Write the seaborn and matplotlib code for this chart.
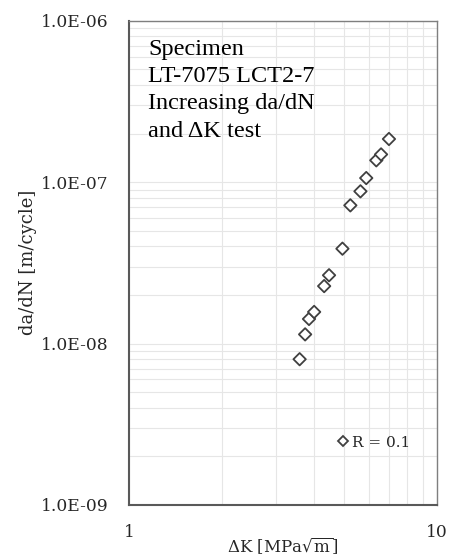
import numpy as np
import pandas as pd
import matplotlib
matplotlib.use("Agg")
import matplotlib.pyplot as plt
from matplotlib.ticker import LogLocator, FuncFormatter, NullFormatter
import seaborn as sns

# da/dN vs delta K
delta_k = [3.58, 3.73, 3.84, 3.99, 4.30, 4.46, 4.93, 5.23, 5.64, 5.89, 6.35, 6.58, 6.98]
dadn = [8.0e-9, 1.14e-8, 1.42e-8, 1.57e-8, 2.27e-8, 2.65e-8, 3.87e-8,
        7.18e-8, 8.77e-8, 1.06e-7, 1.365e-7, 1.485e-7, 1.85e-7]
series_label = "R = 0.1"
note_lines = ["Specimen", "LT-7075 LCT2-7", "Increasing da/dN", "and \u0394K test"]

df = pd.DataFrame({"dK": delta_k, "dadn": dadn, "series": series_label})

sns.set_style("white")
plt.rcParams["font.family"] = ["DejaVu Serif"]
plt.rcParams["mathtext.fontset"] = "dejavuserif"

fig = plt.figure(figsize=(4.53, 5.55), dpi=100)
ax = fig.add_axes([0.2848, 0.0901, 0.68, 0.8726])

sns.scatterplot(data=df, x="dK", y="dadn", hue="series", palette=["white"],
                marker="D", s=40, edgecolor="#404040", linewidth=1.3, ax=ax)

ax.set_xscale("log")
ax.set_yscale("log")
ax.set_xlim(1, 10)
ax.set_ylim(1e-9, 1e-6)

ax.xaxis.set_major_locator(LogLocator(base=10))
ax.xaxis.set_minor_locator(LogLocator(base=10, subs=np.arange(2, 10)))
ax.yaxis.set_major_locator(LogLocator(base=10))
ax.yaxis.set_minor_locator(LogLocator(base=10, subs=np.arange(2, 10)))
ax.yaxis.set_major_formatter(FuncFormatter(lambda v, p: f"{v:.1E}"))
ax.xaxis.set_major_formatter(FuncFormatter(lambda v, p: f"{v:g}"))
ax.xaxis.set_minor_formatter(NullFormatter())
ax.yaxis.set_minor_formatter(NullFormatter())

ax.grid(which="both", color="#e6e6e6", linewidth=0.8)
ax.set_axisbelow(True)

for sp in ax.spines.values():
    sp.set_color("#7f7f7f")
    sp.set_linewidth(1.0)
ax.spines["left"].set_color("#595959")
ax.spines["bottom"].set_color("#595959")
ax.spines["left"].set_linewidth(1.5)
ax.spines["bottom"].set_linewidth(1.5)

ax.tick_params(which="major", direction="inout", length=9, width=1.2,
               color="#595959", labelsize=12.3, labelcolor="#262626", pad=10)
ax.tick_params(axis="x", which="major", pad=9)
ax.tick_params(which="minor", direction="in", length=5, width=1.0, color="#595959")

ax.set_xlabel(r"$\Delta$K [MPa$\sqrt{\mathrm{m}}$]", fontsize=12, color="#262626")
ax.set_ylabel("da/dN [m/cycle]", fontsize=13, color="#262626")
ax.xaxis.set_label_coords(0.5, -0.063)
ax.yaxis.set_label_coords(-0.30, 0.5)

ax.text(0.062, 0.963, "\n".join(note_lines), transform=ax.transAxes,
        ha="left", va="top", fontsize=17.5, family="Liberation Serif",
        linespacing=1.4, color="black")

leg = ax.legend(loc="center left", bbox_to_anchor=(0.625, 0.129), frameon=False,
                markerscale=0.8, handletextpad=0.1, fontsize=11, handlelength=1.0)
for t in leg.get_texts():
    t.set_color("#262626")

fig.savefig("out.png", dpi=100)
